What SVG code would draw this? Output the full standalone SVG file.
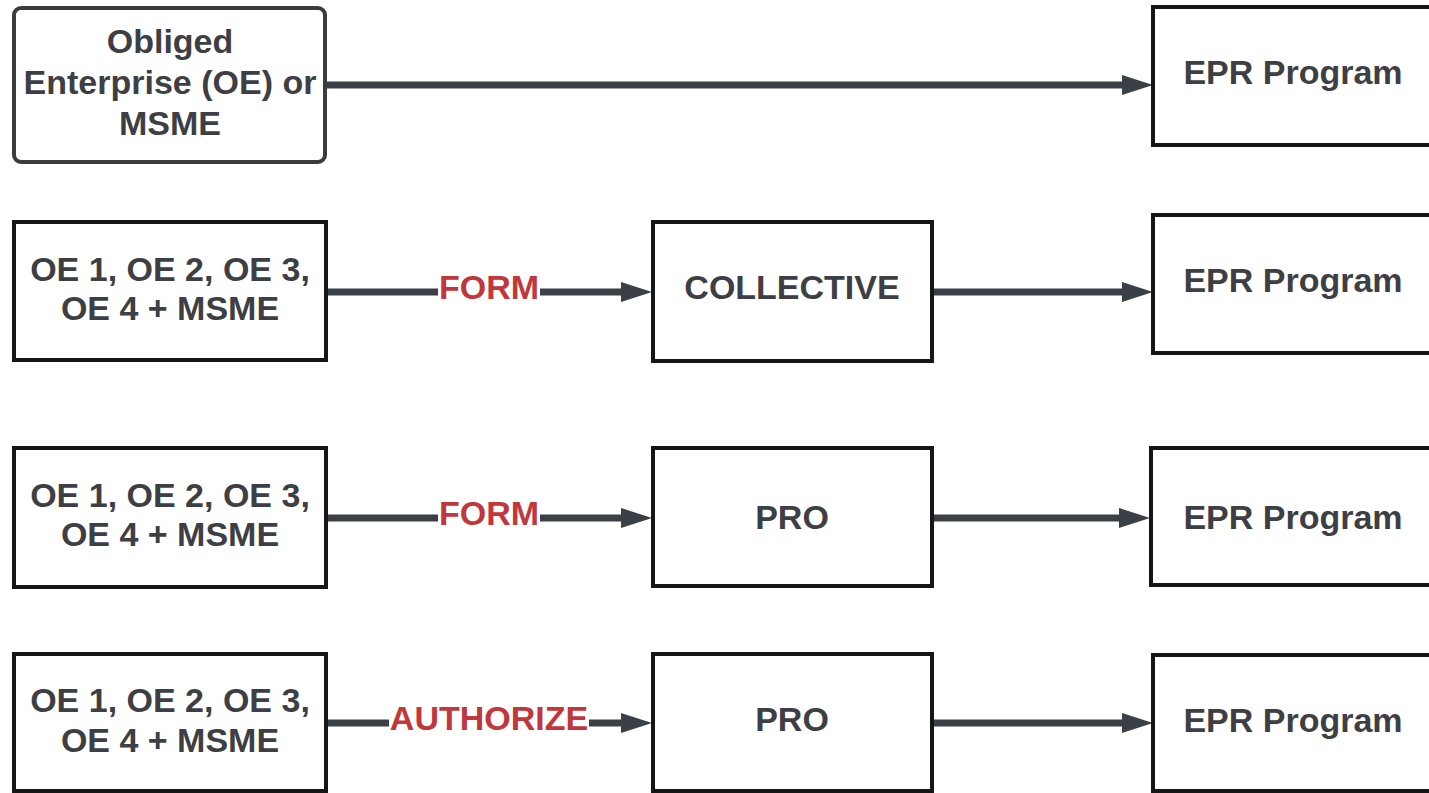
<svg xmlns="http://www.w3.org/2000/svg" width="1429" height="793" viewBox="0 0 1429 793">
<style>
.box{fill:#fff;stroke:#161616;stroke-width:4}
.rbox{fill:#fff;stroke:#3c3c3e;stroke-width:4}
.t{font-family:"Liberation Sans",Arial,sans-serif;font-weight:bold;font-size:34px;fill:#3d3f44;text-anchor:middle}
.lbl{font-family:"Liberation Sans",Arial,sans-serif;font-weight:bold;font-size:34px;fill:#c0383b;text-anchor:middle}
.ln{fill:none;stroke:#3b3f46;stroke-width:7;marker-end:url(#ah)}
</style>
<defs>
<marker id="ah" markerUnits="userSpaceOnUse" markerWidth="32" markerHeight="22" refX="0" refY="10" orient="auto">
<path d="M0,0 L31,10 L0,20 z" fill="#3b3f46"/>
</marker>
</defs>
<rect width="1429" height="793" fill="#fff"/>
<g id="connectors">
<path class="ln" d="M325 85 H1122"/>
<path class="ln" d="M326 292 H621"/>
<path class="ln" d="M932 292 H1122"/>
<path class="ln" d="M326 518 H621"/>
<path class="ln" d="M932 518 H1119"/>
<path class="ln" d="M326 723 H621"/>
<path class="ln" d="M932 723 H1122"/>
<g id="label-form-1"><rect x="438" y="270" width="102" height="36" fill="#fff"/><text class="lbl" x="489" y="299">FORM</text></g>
<g id="label-form-2"><rect x="438" y="496" width="102" height="36" fill="#fff"/><text class="lbl" x="489" y="525">FORM</text></g>
<g id="label-authorize"><rect x="389" y="701" width="200" height="36" fill="#fff"/><text class="lbl" x="489" y="730">AUTHORIZE</text></g>
</g>
<g id="oe-msme">
<rect class="rbox" x="14" y="8" width="311" height="154" rx="7"/>
<text class="t" x="170" y="53">Obliged</text>
<text class="t" x="170" y="94">Enterprise (OE) or</text>
<text class="t" x="170" y="135">MSME</text>
</g>
<g id="epr-1">
<rect class="box" x="1153" y="7" width="290" height="138"/>
<text class="t" x="1293" y="84">EPR Program</text>
</g>
<g id="oe-group-2">
<rect class="box" x="14" y="222" width="312" height="138"/>
<text class="t" x="170" y="281">OE 1, OE 2, OE 3,</text>
<text class="t" x="170" y="320">OE 4 + MSME</text>
</g>
<g id="collective">
<rect class="box" x="653" y="222" width="279" height="139"/>
<text class="t" x="792" y="299">COLLECTIVE</text>
</g>
<g id="epr-2">
<rect class="box" x="1153" y="215" width="290" height="138"/>
<text class="t" x="1293" y="292">EPR Program</text>
</g>
<g id="oe-group-3">
<rect class="box" x="14" y="448" width="312" height="139"/>
<text class="t" x="170" y="507">OE 1, OE 2, OE 3,</text>
<text class="t" x="170" y="546">OE 4 + MSME</text>
</g>
<g id="pro-1">
<rect class="box" x="653" y="448" width="279" height="138"/>
<text class="t" x="792" y="529">PRO</text>
</g>
<g id="epr-3">
<rect class="box" x="1151" y="448" width="292" height="137"/>
<text class="t" x="1293" y="529">EPR Program</text>
</g>
<g id="oe-group-4">
<rect class="box" x="14" y="654" width="312" height="137"/>
<text class="t" x="170" y="712">OE 1, OE 2, OE 3,</text>
<text class="t" x="170" y="752">OE 4 + MSME</text>
</g>
<g id="pro-2">
<rect class="box" x="653" y="654" width="279" height="137"/>
<text class="t" x="792" y="731">PRO</text>
</g>
<g id="epr-4">
<rect class="box" x="1153" y="655" width="290" height="136"/>
<text class="t" x="1293" y="732">EPR Program</text>
</g>
</svg>
